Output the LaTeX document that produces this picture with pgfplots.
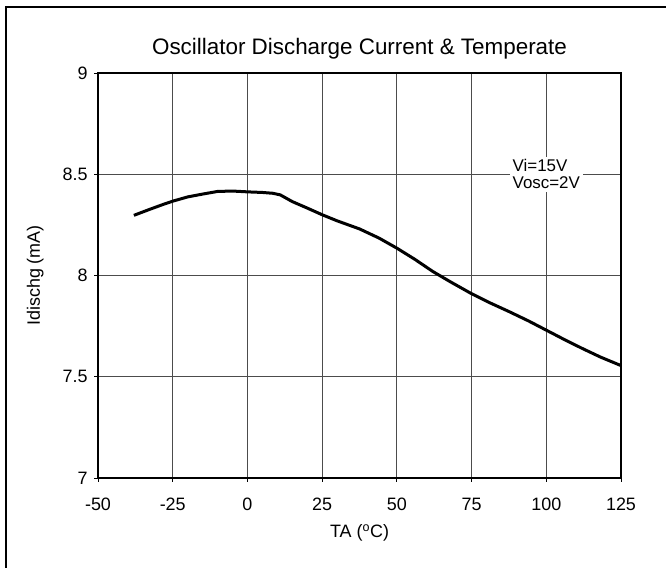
\documentclass[border=0pt]{standalone}
\usepackage{fontspec}
\setmainfont{Liberation Sans}
\usepackage{pgfplots}
\pgfplotsset{compat=1.18}
\begin{document}
\begin{tikzpicture}[x=1bp,y=1bp]
\useasboundingbox (0,0) rectangle (666,568);
\draw[line width=2.5bp] (6,0) -- (6,561) -- (666,561);
\begin{axis}[
    at={(98bp,90bp)}, anchor=south west,
    scale only axis, width=523bp, height=405bp,
    xmin=-50, xmax=125, ymin=7, ymax=9,
    xtick={-50,-25,...,125}, ytick={7,7.5,...,9},
    xtick pos=bottom, ytick pos=left,
    grid=major, grid style={black!70, line width=0.8bp},
    axis line style={line width=1.2bp},
    tick align=outside, major tick length=4bp,
    tick style={black, line width=0.8bp},
    tick label style={font=\fontsize{18}{21}\selectfont},
    xticklabel style={text height=13bp, text depth=0bp, yshift=-12bp},
    yticklabel style={xshift=-3bp},
    /pgf/number format/assume math mode=true,
    title={Oscillator Discharge Current \& Temperate},
    title style={font=\fontsize{22.5}{26}\selectfont, at={(axis description cs:0.5,1.045)}, anchor=center},
    xlabel={TA (\textsuperscript{o}C)},
    xlabel style={font=\fontsize{18}{21}\selectfont, at={(axis description cs:0.5,-0.135)}, anchor=center},
    ylabel={Idischg (mA)},
    ylabel style={font=\fontsize{18}{21}\selectfont, at={(axis description cs:-0.12,0.5)}, anchor=center},
  ]
  \addplot[black, line width=3bp, mark=none] coordinates {
    (-38,8.297) (-33,8.325) (-28,8.352) (-25,8.367) (-20,8.388)
    (-15,8.402) (-10,8.415) (-5,8.417) (0,8.413) (5,8.410)
    (8.5,8.406) (11,8.398) (15,8.365) (20,8.333) (25,8.300)
    (30,8.270) (37.5,8.230) (44,8.185) (50,8.135) (56,8.080)
    (62,8.020) (68,7.968) (75,7.910) (81,7.866) (87.5,7.822)
    (94,7.776) (100,7.730) (106,7.684) (112,7.640) (118,7.598)
    (125,7.555)
  };
  \node[fill=white, align=left, inner sep=3bp, font=\fontsize{17}{17}\selectfont]
    at (axis cs:100,8.5) {Vi=15V\\Vosc=2V};
\end{axis}
\end{tikzpicture}
\end{document}
